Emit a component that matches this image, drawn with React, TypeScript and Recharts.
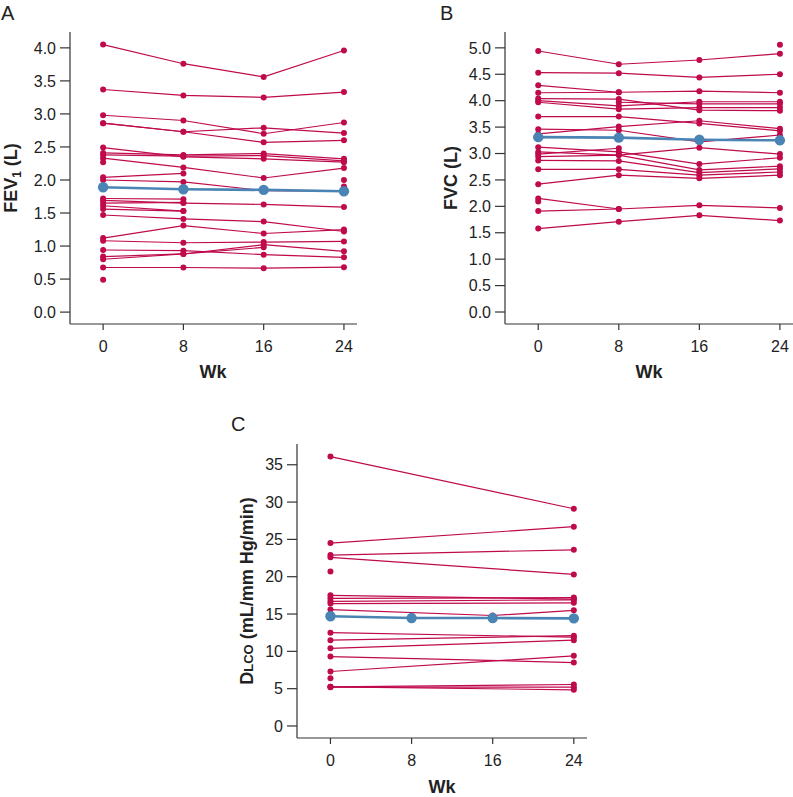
import React from 'react';
import { LineChart, Line, XAxis, YAxis } from 'recharts';

const WEEKS = [0, 8, 16, 24];

// each row = one patient, values at wk 0 / 8 / 16 / 24 (null = not measured)
const FEV1_PATIENTS: (number | null)[][] = [
  [4.05, 3.76, 3.56, 3.96],
  [3.37, 3.28, 3.25, 3.33],
  [2.98, 2.9, 2.7, 2.87],
  [2.86, 2.73, 2.79, 2.71],
  [2.86, 2.73, 2.57, 2.6],
  [2.49, 2.35, 2.32, 2.27],
  [2.41, 2.38, 2.4, 2.32],
  [2.38, 2.36, 2.37, 2.29],
  [2.33, 2.19, 2.03, 2.18],
  [2.27, null, null, null],
  [2.04, 2.1, null, null],
  [2.0, 1.97, 1.84, 1.83],
  [null, null, null, 2.0],
  [null, null, null, 1.9],
  [1.72, 1.71, null, null],
  [1.69, 1.65, 1.63, 1.59],
  [1.65, 1.66, null, null],
  [1.61, 1.53, null, null],
  [1.56, 1.53, null, null],
  [1.47, 1.41, 1.37, 1.22],
  [1.12, 1.31, 1.19, 1.25],
  [1.08, 1.05, 1.06, 1.07],
  [0.94, 0.93, 0.87, 0.83],
  [0.84, 0.88, 1.02, 0.92],
  [0.8, 0.88, 0.98, null],
  [0.675, 0.675, 0.665, 0.68],
  [0.49, null, null, null],
];
const FEV1_MEAN = [1.89, 1.86, 1.85, 1.83];
const FEV1_TICKS = [0, 0.5, 1, 1.5, 2, 2.5, 3, 3.5, 4];

const FVC_PATIENTS: (number | null)[][] = [
  [4.94, 4.69, 4.77, 4.89],
  [null, null, null, 5.06],
  [4.53, 4.52, 4.44, 4.5],
  [4.29, 4.16, 4.18, 4.15],
  [4.15, 4.16, null, null],
  [4.04, 4.03, 3.82, 3.81],
  [4.0, 3.9, 3.98, 3.98],
  [3.97, 3.84, 3.87, 3.87],
  [null, 3.97, 3.94, 3.94],
  [3.7, 3.7, 3.57, 3.43],
  [3.46, 3.44, 3.22, 3.35],
  [3.37, 3.51, 3.62, 3.47],
  [3.12, 3.03, 2.8, 2.92],
  [3.03, 2.97, 3.11, 2.99],
  [2.99, 3.1, null, null],
  [2.94, 2.97, 2.69, 2.76],
  [2.87, 2.86, 2.64, 2.71],
  [2.7, 2.7, 2.59, 2.65],
  [2.42, 2.59, 2.53, 2.59],
  [2.15, 1.95, 2.02, 1.97],
  [2.09, null, null, null],
  [1.91, 1.95, null, null],
  [1.58, 1.71, 1.83, 1.73],
];
const FVC_MEAN = [3.31, 3.3, 3.26, 3.25];
const FVC_TICKS = [0, 0.5, 1, 1.5, 2, 2.5, 3, 3.5, 4, 4.5, 5];

const DLCO_PATIENTS: (number | null)[][] = [
  [36.1, null, null, 29.1],
  [24.5, null, null, 26.7],
  [22.9, null, null, 23.6],
  [22.6, null, null, 20.3],
  [20.7, null, null, null],
  [17.5, null, null, 17.0],
  [17.1, null, null, 17.2],
  [16.7, null, null, 16.9],
  [16.4, null, null, 16.5],
  [15.6, null, 14.8, 15.5],
  [12.5, null, null, 11.9],
  [11.5, null, null, 12.1],
  [10.4, null, null, 11.5],
  [9.3, null, null, 8.5],
  [7.3, null, null, 9.4],
  [6.4, null, null, null],
  [5.24, null, null, 5.56],
  [5.24, null, null, 4.85],
  [5.2, null, null, 5.2],
];
const DLCO_MEAN = [14.7, 14.46, 14.46, 14.42];
const DLCO_TICKS = [0, 5, 10, 15, 20, 25, 30, 35];

const RED = '#BF0A4C';
const BLUE = '#4A84B4';
const FONT = '"Liberation Sans", Arial, Helvetica, sans-serif';

const buildRows = (patients: (number | null)[][], mean: number[]) =>
  WEEKS.map((wk, j) => {
    const row: Record<string, number | null> = { wk, mean: mean[j] };
    patients.forEach((p, i) => {
      row[`p${i}`] = p[j];
    });
    return row;
  });

interface PanelProps {
  patients: (number | null)[][];
  mean: number[];
  ticks: number[];
  domain: [number, number];
  digits: number;
  width: number;
  height: number;
  margin: { top: number; right: number; bottom: number; left: number };
  yLabel: React.ReactNode;
  yLabelPos: [number, number];
  wkPos: [number, number];
}

const Panel: React.FC<PanelProps> = ({
  patients, mean, ticks, domain, digits, width, height, margin, yLabel, yLabelPos, wkPos,
}) => {
  const rows = buildRows(patients, mean);
  const axisStyle = { fill: '#222', fontSize: 16, fontFamily: FONT };
  return (
    <LineChart width={width} height={height} data={rows} margin={margin}>
      <XAxis
        type="number"
        dataKey="wk"
        domain={[-3.3, 25.3]}
        ticks={WEEKS}
        allowDataOverflow
        height={50}
        tick={axisStyle}
        tickSize={6}
        tickMargin={11}
        axisLine={{ stroke: '#333', strokeWidth: 1.2 }}
        tickLine={{ stroke: '#333', strokeWidth: 1.2 }}
        label={{
          content: () => (
            <text x={wkPos[0]} y={wkPos[1]} textAnchor="middle" fontFamily={FONT} fontWeight="bold" fontSize={18} fill="#222">
              Wk
            </text>
          ),
        }}
      />
      <YAxis
        type="number"
        domain={domain}
        ticks={ticks}
        allowDataOverflow
        width={60}
        tick={axisStyle}
        tickSize={10}
        tickMargin={4}
        tickFormatter={(v: number) => v.toFixed(digits)}
        axisLine={{ stroke: '#333', strokeWidth: 1.2 }}
        tickLine={{ stroke: '#333', strokeWidth: 1.2 }}
        label={{
          content: () => (
            <text
              x={yLabelPos[0]}
              y={yLabelPos[1]}
              transform={`rotate(-90 ${yLabelPos[0]} ${yLabelPos[1]})`}
              textAnchor="middle"
              fontFamily={FONT}
              fontWeight="bold"
              fontSize={18}
              fill="#222"
            >
              {yLabel}
            </text>
          ),
        }}
      />
      {patients.map((_, i) => (
        <Line
          key={`p${i}`}
          dataKey={`p${i}`}
          stroke={RED}
          strokeWidth={1.2}
          connectNulls
          dot={{ r: 3, fill: RED, stroke: 'none' }}
          isAnimationActive={false}
        />
      ))}
      <Line
        dataKey="mean"
        stroke={BLUE}
        strokeWidth={2.6}
        dot={{ r: 5.2, fill: BLUE, stroke: 'none' }}
        isAnimationActive={false}
      />
    </LineChart>
  );
};

const letterStyle: React.CSSProperties = {
  position: 'absolute',
  fontFamily: FONT,
  fontSize: 20,
  lineHeight: '20px',
  color: '#222',
};

export default function App() {
  return (
    <div style={{ position: 'absolute', left: 0, top: 0, width: 793, height: 797, overflow: 'hidden', background: '#fff' }}>
      <div style={{ ...letterStyle, left: 1, top: 3 }}>A</div>
      <div style={{ ...letterStyle, left: 440, top: 3 }}>B</div>
      <div style={{ ...letterStyle, left: 231, top: 414 }}>C</div>

      <div style={{ position: 'absolute', left: 0, top: 0 }}>
        <Panel
          patients={FEV1_PATIENTS}
          mean={FEV1_MEAN}
          ticks={FEV1_TICKS}
          domain={[-0.18, 4.24]}
          digits={1}
          width={360}
          height={390}
          margin={{ top: 32, right: 3, bottom: 16, left: 10 }}
          yLabel={
            <>
              FEV<tspan dy={4} fontSize={12}>1</tspan>
              <tspan dy={-4}> (L)</tspan>
            </>
          }
          yLabelPos={[17, 178]}
          wkPos={[213, 378]}
        />
      </div>

      <div style={{ position: 'absolute', left: 436, top: 0 }}>
        <Panel
          patients={FVC_PATIENTS}
          mean={FVC_MEAN}
          ticks={FVC_TICKS}
          domain={[-0.227, 5.3]}
          digits={1}
          width={357}
          height={390}
          margin={{ top: 32, right: 0, bottom: 16, left: 9 }}
          yLabel="FVC (L)"
          yLabelPos={[21, 178]}
          wkPos={[213, 378]}
        />
      </div>

      <div style={{ position: 'absolute', left: 226, top: 400 }}>
        <Panel
          patients={DLCO_PATIENTS}
          mean={DLCO_MEAN}
          ticks={DLCO_TICKS}
          domain={[-1.61, 37.78]}
          digits={0}
          width={370}
          height={397}
          margin={{ top: 44, right: 9, bottom: 9, left: 11 }}
          yLabel={
            <>
              D<tspan fontSize={13}>LCO</tspan> (mL/mm Hg/min)
            </>
          }
          yLabelPos={[27, 191]}
          wkPos={[216, 393]}
        />
      </div>
    </div>
  );
}
